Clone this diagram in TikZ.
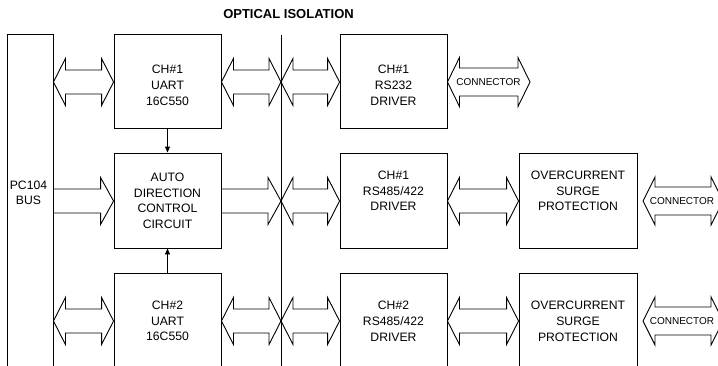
\documentclass[tikz,border=0pt]{standalone}
\usepackage{fontspec}
\setmainfont{Liberation Sans}
\usetikzlibrary{calc,arrows.meta}
\tikzset{
  box/.style={draw, line width=0.9pt, inner sep=0pt, minimum width=#1},
  txt/.style={align=center, inner sep=0pt, font=\fontsize{12.2}{15.5}\selectfont},
  txtA/.style={align=center, inner sep=0pt, font=\fontsize{12.2}{16}\selectfont},
  conn/.style={inner sep=0pt, font=\fontsize{10}{12}\selectfont},
  fat/.style={draw, line width=0.9pt, line join=miter},
  vline/.style={draw, line width=0.9pt},
  varr/.style={draw, line width=0.9pt, -{Triangle[length=6pt,width=5pt]}},
}
% fat double arrow: left point, right point, y, shaft half, head half
\newcommand\fatdbl[5]{%
  \draw[fat] let \p1=(#1), \p2=(#2), \p3=(0,#3) in
  (\x1,\y3) -- (\x1+12pt,\y3+#5pt) -- (\x1+12pt,\y3+#4pt) -- (\x2-12pt,\y3+#4pt)
  -- (\x2-12pt,\y3+#5pt) -- (\x2,\y3) -- (\x2-12pt,\y3-#5pt) -- (\x2-12pt,\y3-#4pt)
  -- (\x1+12pt,\y3-#4pt) -- (\x1+12pt,\y3-#5pt) -- cycle;}
% fat single arrow (to the right)
\newcommand\fatone[3]{%
  \draw[fat] let \p1=(#1), \p2=(#2), \p3=(0,#3) in
  (\x1,\y3+12pt) -- (\x2-13pt,\y3+12pt) -- (\x2-13pt,\y3+23.5pt) -- (\x2,\y3)
  -- (\x2-13pt,\y3-23.5pt) -- (\x2-13pt,\y3-12pt) -- (\x1,\y3-12pt);}
\begin{document}
\begin{tikzpicture}[x=1pt,y=-1pt]
\useasboundingbox (0,0) rectangle (718,365);
\clip (0,0) rectangle (718,365);
\fill[white] (0,0) rectangle (718,365);

% title
\node[inner sep=0pt, anchor=base, font=\bfseries\fontsize{13}{15}\selectfont] (title) at (288.5,18) {OPTICAL ISOLATION};

% isolation line
\coordinate (isotop) at (281,35);
\coordinate (isobot) at (281,380);
\draw[vline] (isotop) -- (isobot);
\coordinate (iso) at (281,0);

% boxes
\node[box=46pt, minimum height=346pt] (bus) at (30,207) {};
\node[txt] (bust) at (28.5,193) {PC104\\BUS};

\node[box=107pt, minimum height=94pt] (u1) at (167.5,81) {};
\node[txtA] (u1t) at (167.5,85.7) {CH\#1\\UART\\16C550};

\node[box=107pt, minimum height=95pt] (adc) at (167.5,200.5) {};
\node[txt] (adct) at (167.5,200.7) {AUTO\\DIRECTION\\CONTROL\\CIRCUIT};

\node[box=107pt, minimum height=107pt] (u2) at (167.5,326.5) {};
\node[txt] (u2t) at (167.5,321) {CH\#2\\UART\\16C550};

\node[box=107pt, minimum height=94pt] (rs232) at (393.5,81) {};
\node[txtA] (rs232t) at (393.5,85.7) {CH\#1\\RS232\\DRIVER};

\node[box=107pt, minimum height=95pt] (d1) at (393.5,200.5) {};
\node[txt] (d1t) at (393.5,191) {CH\#1\\RS485/422\\DRIVER};

\node[box=107pt, minimum height=107pt] (d2) at (393.5,326.5) {};
\node[txtA] (d2t) at (393.5,321.7) {CH\#2\\RS485/422\\DRIVER};

\node[box=118pt, minimum height=95pt] (oc1) at (578,200.5) {};
\node[txt] (oc1t) at (578,191.2) {OVERCURRENT\\SURGE\\PROTECTION};

\node[box=118pt, minimum height=107pt] (oc2) at (578,326.5) {};
\node[txtA] (oc2t) at (578,321.7) {OVERCURRENT\\SURGE\\PROTECTION};

% vertical arrows
\draw[varr] (u1.south) -- (adc.north);
\draw[varr] (u2.north) -- (adc.south);

% row 1
\fatdbl{bus.east}{u1.west}{82}{12}{23.5}
\fatdbl{u1.east}{iso}{82}{12}{23.5}
\fatdbl{iso}{rs232.west}{82}{12}{23.5}
\coordinate (c1end) at (530,82);
\fatdbl{rs232.east}{c1end}{82}{14}{24.5}
\node[conn] (c1t) at (488.5,82) {CONNECTOR};

% row 2
\fatone{bus.east}{adc.west}{201}
\fatone{adc.east}{iso}{201}
\fatdbl{iso}{d1.west}{201}{12}{23.5}
\fatdbl{d1.east}{oc1.west}{201}{12}{23.5}
\coordinate (c2start) at (643,201);
\coordinate (c2end) at (723,201);
\fatdbl{c2start}{c2end}{201}{14}{24}
\node[conn] (c2t) at (682,201) {CONNECTOR};

% row 3
\fatdbl{bus.east}{u2.west}{321}{12}{23.5}
\fatdbl{u2.east}{iso}{321}{12}{23.5}
\fatdbl{iso}{d2.west}{321}{12}{23.5}
\fatdbl{d2.east}{oc2.west}{321}{12}{23.5}
\coordinate (c3start) at (643,321);
\coordinate (c3end) at (723,321);
\fatdbl{c3start}{c3end}{321}{14}{24}
\node[conn] (c3t) at (682,321) {CONNECTOR};
\end{tikzpicture}
\end{document}
